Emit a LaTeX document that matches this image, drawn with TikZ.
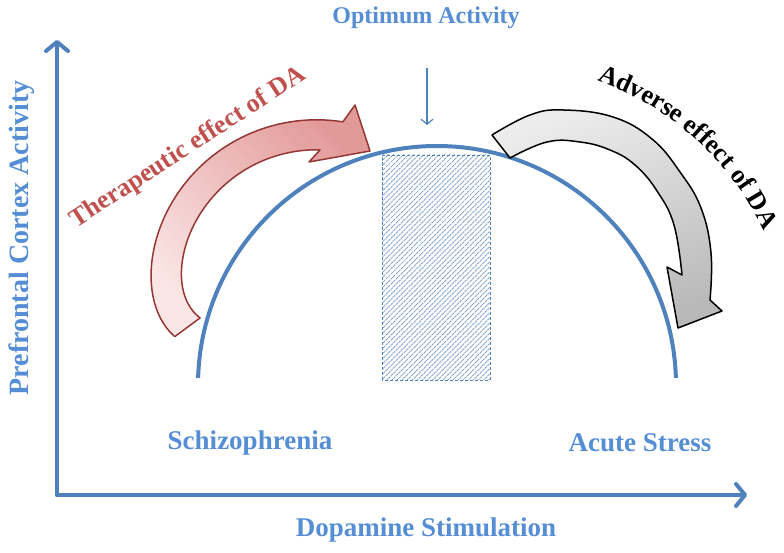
\documentclass[tikz,border=0pt]{standalone}
\usepackage{fontspec}
\setmainfont{Liberation Serif}
\usetikzlibrary{arrows.meta,patterns.meta,positioning,decorations.text}
\definecolor{axisblue}{HTML}{4F81BD}
\definecolor{labelblue}{HTML}{558ED5}
\definecolor{therared}{HTML}{C0504D}
\definecolor{theraedge}{HTML}{953735}
\definecolor{theralight}{HTML}{FBE6E6}
\definecolor{theradark}{HTML}{E29A99}
\newcommand\effectfont{\bfseries\fontsize{26}{26}\selectfont}
\tikzset{
  axisline/.style={axisblue, line width=4pt, line cap=round,
    -{Straight Barb[length=9pt,width=22pt,round]}},
  curveline/.style={axisblue, line width=4pt},
  pointer/.style={axisblue, line width=1.2pt, -{Straight Barb[length=5pt,width=12pt]}},
  hatchbox/.style={draw=axisblue, dash pattern=on 3pt off 2pt, line width=0.6pt,
    pattern={Lines[angle=45,distance=3.6pt,line width=0.7pt]}, pattern color=axisblue!80},
  lbl/.style={text=labelblue, font=\bfseries\fontsize{27}{27}\selectfont, inner sep=0pt},
  effect/.style={font=\effectfont, inner sep=0pt},
}
\begin{document}
\begin{tikzpicture}[x=1pt,y=1pt]
    \useasboundingbox (0,0) rectangle (784,553);
    %%% axes
    \coordinate (O) at (57,58);
    \coordinate (yEnd) at (57,513);
    \coordinate (xEnd) at (747,58);
    \draw[axisline] (O) -- (yEnd);
    \draw[axisline] (O) -- (xEnd);
    \node[lbl, font=\bfseries\fontsize{28}{28}\selectfont, rotate=90] (ylab) at (22,315) {Prefrontal Cortex Activity};
    \node[lbl] (xlab) at (426,23) {Dopamine Stimulation};
    \node[lbl] (schizo) at (250,110) {Schizophrenia};
    \node[lbl] (stress) at (640,110) {Acute Stress};
    \node[lbl, font=\bfseries\fontsize{24}{24}\selectfont] (optimum) at (426,535) {Optimum Activity};
    %%% optimum window
    \draw[hatchbox] (382,173) rectangle (490,398);
    \draw[curveline] (437,168) ++(178.3:239) arc[start angle=178.3, end angle=1.7, radius=239];
    \coordinate (optTop) at (427,485);
    \coordinate (optBot) at (427,428);
    \draw[pointer] (optTop) -- (optBot);
    %%% therapeutic arrow
    \shade[draw=theraedge, line width=1.5pt, line join=round,
      bottom color=theralight, top color=theradark, shading angle=-45]
      plot[domain=199:81, samples=60] ({316.6+(168-18*((\x-81)/118)^10)*cos(\x)}, {265.2+(168-18*((\x-81)/118)^10)*sin(\x)})
      -- (355,448) -- (370,402) -- (309,391) -- (320,403)
      -- plot[domain=88.6:194.5, samples=60] ({316.6+(138-17.6*((\x-88.6)/105.9)^10)*cos(\x)}, {265.2+(138-17.6*((\x-88.6)/105.9)^10)*sin(\x)})
      -- cycle;
    \node[effect, text=therared, rotate=33] (thera) at (188,405) {Therapeutic effect of DA};
    %%% adverse arrow
    \shade[draw=black, line width=1.5pt, line join=round,
      top color=gray!15, bottom color=gray!55, shading angle=20]
      plot[smooth, tension=0.7] coordinates {(492,418) (530,438) (563,443) (613,436) (652,414) (680,381) (701,345) (711,300) (710,253)}
      -- (722,242) -- (678,225) -- (667,286) -- (682,278)
      -- plot[smooth, tension=0.7] coordinates {(682,278) (674,328) (657,362) (635,388) (610,403) (580,411) (547,411) (510,395)}
      -- cycle;
    \path[decorate, decoration={text along path, text align=center,
      text={|\effectfont|Adverse effect of DA}}]
      (500,197) ++(76:292) arc[start angle=76, end angle=20, radius=292];
  \end{tikzpicture}
\end{document}
